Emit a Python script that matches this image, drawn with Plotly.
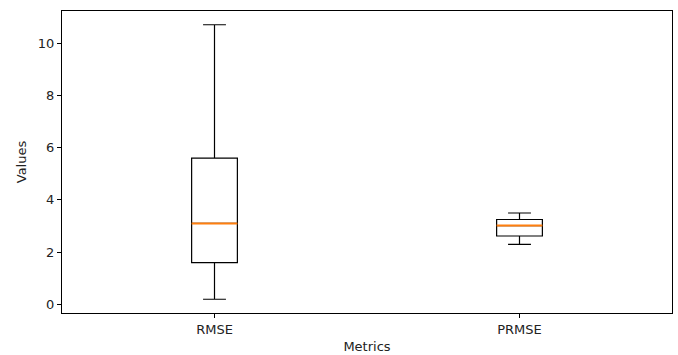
import plotly.graph_objects as go

categories = ["RMSE", "PRMSE"]
positions = [1, 2]
lower_whisker = [0.2, 2.3]
q1 = [1.6, 2.62]
median = [3.1, 3.02]
q3 = [5.6, 3.25]
upper_whisker = [10.7, 3.5]

box_width = 0.15

fig = go.Figure()
for i, name in enumerate(categories):
    fig.add_trace(go.Box(
        x=[positions[i]],
        q1=[q1[i]], median=[median[i]], q3=[q3[i]],
        lowerfence=[lower_whisker[i]], upperfence=[upper_whisker[i]],
        width=box_width, whiskerwidth=0.5,
        line=dict(color="black", width=1.2),
        fillcolor="rgba(0,0,0,0)",
        boxpoints=False, showlegend=False, hoverinfo="skip",
    ))
    fig.add_trace(go.Scatter(
        x=[positions[i] - box_width / 2, positions[i] + box_width / 2],
        y=[median[i], median[i]],
        mode="lines", line=dict(color="#ff7f0e", width=2),
        showlegend=False, hoverinfo="skip",
    ))

axis_common = dict(
    showline=True, linecolor="black", linewidth=1, mirror=True,
    ticks="outside", ticklen=4, tickcolor="black", showgrid=False, zeroline=False,
    tickfont=dict(family="DejaVu Sans", size=13, color="#222222"),
    automargin=False,
)
fig.update_layout(
    width=678, height=355,
    margin=dict(l=62, r=6, t=11, b=42),
    plot_bgcolor="white", paper_bgcolor="white",
    font=dict(family="DejaVu Sans", size=13, color="#222222"),
    xaxis=dict(range=[0.5, 2.5], tickvals=positions, ticktext=categories,
               title=dict(text="Metrics", standoff=6,
                          font=dict(family="DejaVu Sans", size=13)), **axis_common),
    yaxis=dict(range=[-0.325, 11.225], tickvals=[0, 2, 4, 6, 8, 10],
               title=dict(text="Values", standoff=8,
                          font=dict(family="DejaVu Sans", size=13)), **axis_common),
)
fig.write_html("out.html")
